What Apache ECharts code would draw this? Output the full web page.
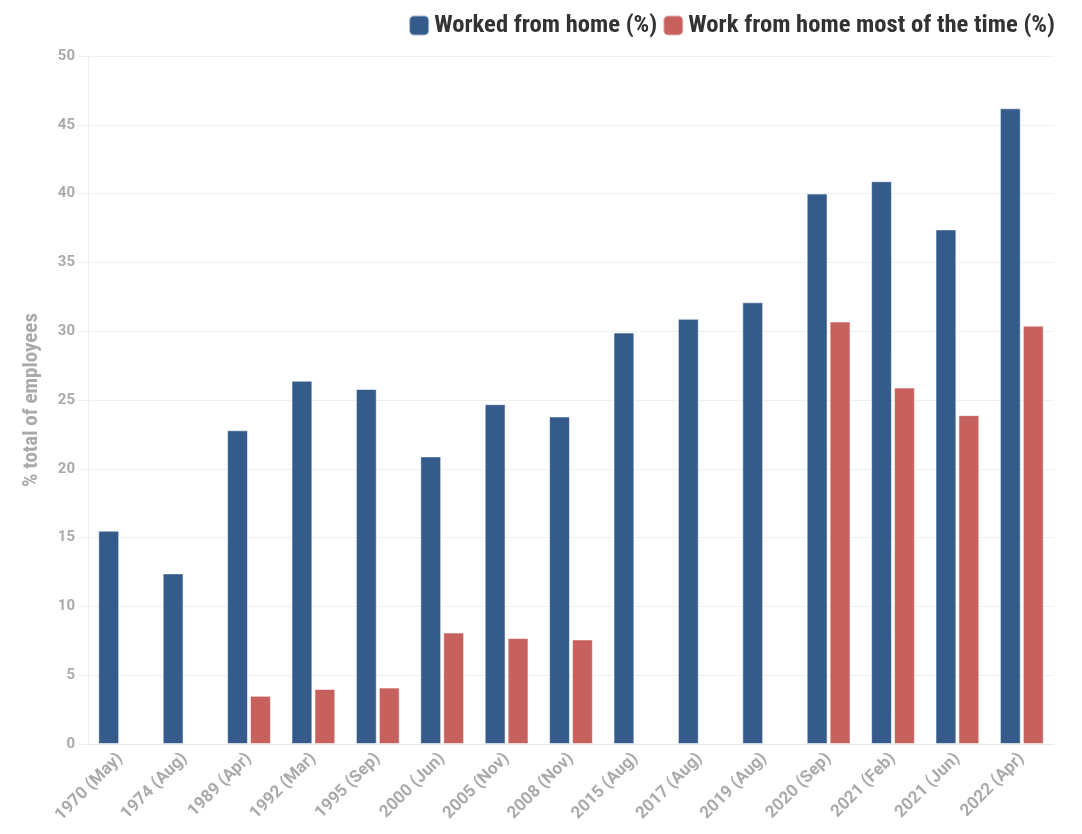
<!DOCTYPE html>
<html>
<head>
<meta charset="utf-8">
<title>Working from home</title>
<script src="https://cdn.jsdelivr.net/npm/echarts@6/dist/echarts.min.js"></script>
<style>
  html, body { margin: 0; padding: 0; background: #fff; }
  #chart { width: 1082px; height: 834px; }
</style>
</head>
<body>
<div id="chart"></div>
<script>
// Survey dates
const categories = [
  '1970 (May)', '1974 (Aug)', '1989 (Apr)', '1992 (Mar)', '1995 (Sep)',
  '2000 (Jun)', '2005 (Nov)', '2008 (Nov)', '2015 (Aug)', '2017 (Aug)',
  '2019 (Aug)', '2020 (Sep)', '2021 (Feb)', '2021 (Jun)', '2022 (Apr)'
];

// Share of employees who worked from home at all (%)
const workedFromHome = [15.5, 12.4, 22.8, 26.4, 25.8, 20.9, 24.7, 23.8, 29.9, 30.9, 32.1, 40.0, 40.9, 37.4, 46.2];

// Share who work from home most of the time (%); '-' where not surveyed
const mostOfTheTime = ['-', '-', 3.5, 4.0, 4.1, 8.1, 7.7, 7.6, '-', '-', '-', 30.7, 25.9, 23.9, 30.4];

const seriesNames = ['Worked from home (%)', 'Work from home most of the time (%)'];
const yTicks = { min: 0, max: 50, interval: 5 };

const FONT = 'Roboto, "Noto Sans", sans-serif';
const NARROW = '"Roboto Condensed", "Liberation Sans Narrow", Roboto, sans-serif';
const GREY = '#aaaaaa';

const chart = echarts.init(document.getElementById('chart'), null, { renderer: 'canvas' });

chart.setOption({
  animation: false,
  color: ['#1f497d', '#c0504d'],
  legend: {
    top: 8,
    right: 22,
    itemWidth: 20,
    itemHeight: 20,
    itemGap: 5,
    icon: 'roundRect',
    textStyle: { fontFamily: NARROW, fontWeight: 'bold', fontSize: 24.6, color: '#333' },
    data: seriesNames
  },
  grid: { left: 88, right: 28, top: 56, bottom: 90, containLabel: false },
  xAxis: {
    type: 'category',
    data: categories,
    axisLine: { lineStyle: { color: '#e8e8e8' } },
    axisTick: { alignWithLabel: true, length: 8, lineStyle: { color: '#e8e8e8' } },
    axisLabel: {
      rotate: 45,
      interval: 0,
      margin: 12,
      fontFamily: FONT,
      fontWeight: 'bold',
      fontSize: 17,
      color: GREY
    }
  },
  yAxis: {
    type: 'value',
    min: yTicks.min,
    max: yTicks.max,
    interval: yTicks.interval,
    name: '% total of employees',
    nameLocation: 'middle',
    nameGap: 46,
    nameTextStyle: { fontFamily: NARROW, fontWeight: 'bold', fontSize: 21, color: GREY },
    axisLine: { show: true, lineStyle: { color: '#efefef' } },
    axisTick: { show: true, length: 10, lineStyle: { color: '#efefef' } },
    splitLine: { lineStyle: { color: '#efefef' } },
    axisLabel: { fontFamily: FONT, fontWeight: 'bold', fontSize: 15, color: GREY, margin: 13 }
  },
  series: [
    {
      name: seriesNames[0],
      type: 'bar',
      data: workedFromHome,
      barGap: '10%',
      barCategoryGap: '32%',
      itemStyle: { opacity: 0.9, borderColor: 'rgba(255,255,255,0.6)', borderWidth: 1 }
    },
    {
      name: seriesNames[1],
      type: 'bar',
      data: mostOfTheTime,
      barGap: '10%',
      barCategoryGap: '32%',
      itemStyle: { opacity: 0.9, borderColor: 'rgba(255,255,255,0.6)', borderWidth: 1 }
    }
  ]
});
</script>
</body>
</html>
